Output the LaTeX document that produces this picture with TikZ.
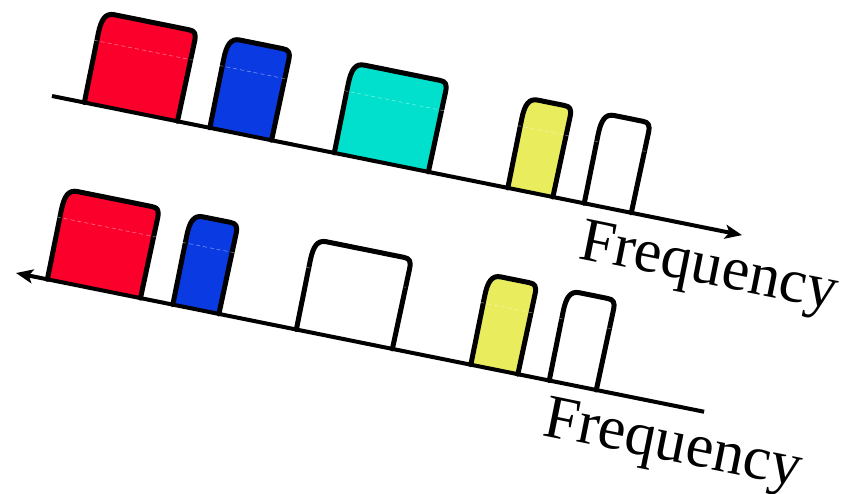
\documentclass[tikz,border=0pt]{standalone}
\usepackage{fontspec}
\setmainfont{Liberation Serif}
\usetikzlibrary{arrows.meta}

\definecolor{bandred}{RGB}{252,0,44}
\definecolor{bandblue}{RGB}{10,58,226}
\definecolor{bandcyan}{RGB}{0,224,204}
\definecolor{bandyellow}{RGB}{233,236,92}

\tikzset{
  bandline/.style={line width=5pt, line join=round, line cap=round},
  axisline/.style={line width=4pt},
  seam/.style={white, opacity=0.45, line width=0.6pt, dash pattern=on 4pt off 3pt},
  freqlabel/.style={font=\fontsize{62}{74}\selectfont, anchor=base west, inner sep=0pt, transform shape},
  axistip/.style={-{Stealth[length=17pt,width=14pt,inset=4pt]}}
}

% outline of one pass band: start on the axis, width, height
\newcommand\passbandpath[3]{%
  (#1,0) -- (#1,#3-22) .. controls (#1,#3-7) and (#1+3,#3) .. (#1+12,#3)
  -- (#1+#2-7,#3) .. controls (#1+#2-1,#3) and (#1+#2+1,#3-2) .. (#1+#2+1,#3-10)
  -- (#1+#2,0)}

% filled pass band with its outline and the faint seam across it
\newcommand\passband[3]{%
  \fill[#1] \passbandpath{#2}{#3}{92} -- cycle;
  \draw[bandline] \passbandpath{#2}{#3}{92};
  \draw[seam] (#2-3,63) -- (#2+#3+4,63);
}

\begin{document}
\begin{tikzpicture}[x=1pt,y=1pt]
  \useasboundingbox (0,0) rectangle (846,493);

  % upper spectrum
  \begin{scope}[shift={(52,397)}, rotate=-11.4]
    \passband{bandred}{33}{95}
    \passband{bandblue}{161}{63}
    \passband{bandcyan}{288}{96}
    \passband{bandyellow}{465}{46}
    \passband{white}{543}{48}
    \coordinate (a1) at (0,0);
    \coordinate (a2) at (704,0);
    \draw[axisline, axistip] (a1) -- (a2);
    \node[freqlabel] (f1) at (547,-55) {Frequency};
  \end{scope}

  % lower spectrum
  \begin{scope}[shift={(16,220)}, rotate=-11.4]
    \passband{bandred}{32}{95}
    \passband{bandblue}{160}{47}
    \passband{white}{286}{98}
    \passband{bandyellow}{464}{48}
    \passband{white}{544}{48}
    \coordinate (b1) at (0,0);
    \coordinate (b2) at (702,0);
    \draw[axisline, axistip] (b2) -- (b1);
    \node[freqlabel] (f2) at (547,-55) {Frequency};
  \end{scope}
\end{tikzpicture}
\end{document}
